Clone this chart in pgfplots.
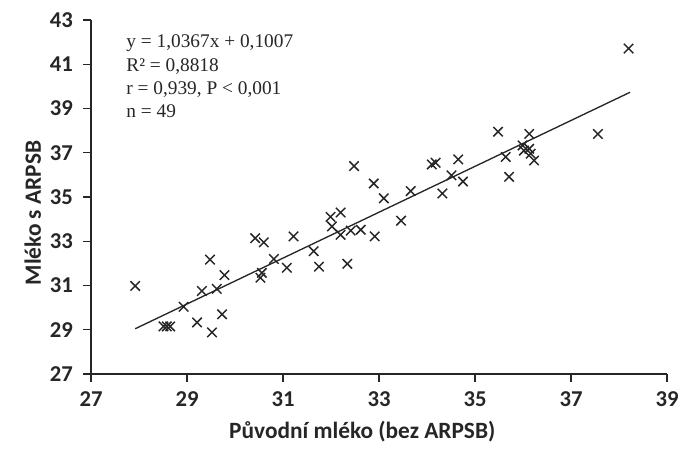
\documentclass[border=0pt]{standalone}
\usepackage{fontspec}
\setmainfont{Carlito}
\newfontfamily\tnr{Liberation Serif}
\usepackage{pgfplots}
\pgfplotsset{compat=1.18}
\begin{document}
\begin{tikzpicture}
\useasboundingbox (-68.25pt,-57pt) rectangle (441.75pt,280.5pt);
\begin{axis}[
 scale only axis, width=432pt, height=265.5pt,
 xmin=27,xmax=39,ymin=27,ymax=43,
 xtick={27,29,...,39}, ytick={27,29,...,43},
 axis lines=left, axis line style={-, line width=1pt, color=black!85},
 tick style={line width=1pt, color=black!85}, tick align=outside, major tick length=6pt,
 /pgf/number format/assume math mode=true,
 ticklabel style={font=\bfseries\fontsize{17}{17}\selectfont, text=black!85},
 xticklabel style={yshift=-4pt},
 yticklabel style={xshift=-4pt},
 xlabel={Původní mléko (bez ARPSB)}, ylabel={Mléko s ARPSB},
 label style={font=\bfseries\fontsize{17.5}{17.5}\selectfont, text=black!85},
 xlabel style={at={(axis description cs:0.471,-0.164)},anchor=center},
 ylabel style={at={(axis description cs:-0.101,0.455)},anchor=center},
 clip=false
]
\addplot[only marks, mark=x, mark size=5pt, mark options={line width=1.1pt, color=black!85}] table {
x y
27.92 30.98
28.51 29.15
28.58 29.15
28.65 29.15
28.93 30.04
29.21 29.33
29.31 30.75
29.48 32.17
29.52 28.88
29.62 30.85
29.73 29.70
29.78 31.47
30.42 33.14
30.53 31.35
30.56 31.57
30.60 32.95
30.81 32.20
31.08 31.80
31.22 33.22
31.64 32.55
31.75 31.85
31.99 34.10
32.02 33.67
32.20 34.30
32.20 33.29
32.34 31.98
32.41 33.48
32.48 36.40
32.62 33.52
32.91 33.22
32.89 35.61
33.10 34.94
33.46 33.93
33.66 35.27
34.10 36.47
34.18 36.55
34.32 35.16
34.51 35.98
34.65 36.70
34.75 35.70
35.48 37.95
35.64 36.81
35.71 35.91
35.99 37.33
36.02 37.10
36.13 37.85
36.13 37.18
36.16 36.96
36.23 36.65
37.56 37.85
38.20 41.71
};
\addplot[line width=1pt, color=black!85] coordinates {(27.92,29.045) (38.23,39.734)};
\node[anchor=north west, align=left, inner sep=0pt, font=\tnr\fontsize{14.5}{17.5}\selectfont, text=black!85] at (axis description cs:0.061,0.958) {y = 1,0367x + 0,1007\\R² = 0,8818\\r = 0,939, P < 0,001\\n = 49};
\end{axis}
\end{tikzpicture}
\end{document}
